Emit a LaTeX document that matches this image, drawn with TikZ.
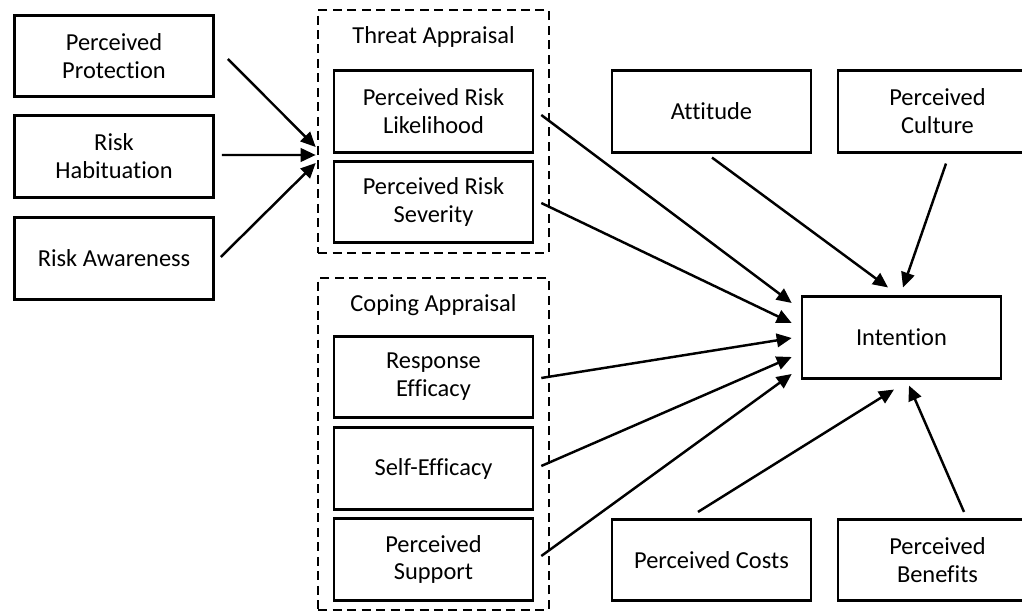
\documentclass[tikz,border=0pt]{standalone}
\usepackage{fontspec}
\setmainfont{Carlito}[Ligatures=NoCommon]
\usetikzlibrary{arrows.meta}

\begin{document}
\begin{tikzpicture}[x=0.02cm,y=-0.02cm,
        box/.style={shape=rectangle,draw=black,line width=1.5pt,minimum width=3.98cm,minimum height=1.63cm,inner sep=0pt,align=center,font=\fontsize{13.9}{15.9}\selectfont},
        group/.style={shape=rectangle,draw=black,line width=1.5pt,dash pattern=on 0.18cm off 0.11cm,minimum width=4.62cm,inner sep=0pt},
        grouptitle/.style={font=\fontsize{13.9}{15.9}\selectfont},
        arr/.style={-{Triangle[length=0.3cm,width=0.27cm]},line width=1.4pt}]
        \clip (0, 0) rectangle (1022, 612);

        \node[box] (prot) at (114, 56)       {Perceived\\Protection};
        \node[box] (habit) at (114, 156.5)   {Risk\\Habituation};
        \node[box] (aware) at (114, 258.5)   {Risk Awareness};

        \node[group,minimum height=4.86cm] (threat) at (433.5, 131.5) {};
        \node[grouptitle] (threattitle) at (433.5, 37) {Threat Appraisal};
        \node[box] (likeli) at (433.5, 111.5) {Perceived Risk\\Likelihood};
        \node[box] (sever) at (433.5, 202)    {Perceived Risk\\Severity};

        \node[group,minimum height=6.64cm] (coping) at (433.5, 444) {};
        \node[grouptitle] (copingtitle) at (433.5, 305) {Coping Appraisal};
        \node[box] (resp) at (433.5, 377)     {Response\\Efficacy};
        \node[box] (selfeff) at (433.5, 468.5) {Self-Efficacy};
        \node[box] (support) at (433.5, 559.5) {Perceived\\Support};

        \node[box] (attit) at (711.5, 111.5)  {Attitude};
        \node[box] (cult) at (937.5, 111.5)   {Perceived\\Culture};
        \node[box] (intent) at (901.5, 337.5) {Intention};
        \node[box] (costs) at (711.5, 560)    {Perceived Costs};
        \node[box] (benef) at (937.5, 560)    {Perceived\\Benefits};

	\path[arr] ([shift={(13,3)}]prot.east) edge ([shift={(-1,15.5)}]threat.west);
	\path[arr] ([shift={(7,-1.5)}]habit.east) edge ([shift={(-1,23.5)}]threat.west);
	\path[arr] ([shift={(6,-1.5)}]aware.east) edge ([shift={(-1,31.5)}]threat.west);
	\path[arr] ([shift={(7,3.5)}]likeli.east) edge ([shift={(-9,-34.5)}]intent.west);
	\path[arr] ([shift={(7,1)}]sever.east) edge ([shift={(-9,-14.5)}]intent.west);
	\path[arr] ([shift={(7,1)}]resp.east) edge ([shift={(-9,0.5)}]intent.west);
	\path[arr] ([shift={(7,-2.5)}]selfeff.east) edge ([shift={(-9,19.5)}]intent.west);
	\path[arr] ([shift={(7,-3.5)}]support.east) edge ([shift={(-9,36.5)}]intent.west);
	\path[arr] ([shift={(0.5,4)}]attit.south) edge ([shift={(-13.5,-8)}]intent.north);
	\path[arr] ([shift={(8.5,10)}]cult.south) edge ([shift={(1.5,-8)}]intent.north);
	\path[arr] ([shift={(-13.5,-6)}]costs.north) edge ([shift={(-7.5,10)}]intent.south);
	\path[arr] ([shift={(26.5,-6)}]benef.north) edge ([shift={(7.5,6)}]intent.south);
\end{tikzpicture}
\end{document}
